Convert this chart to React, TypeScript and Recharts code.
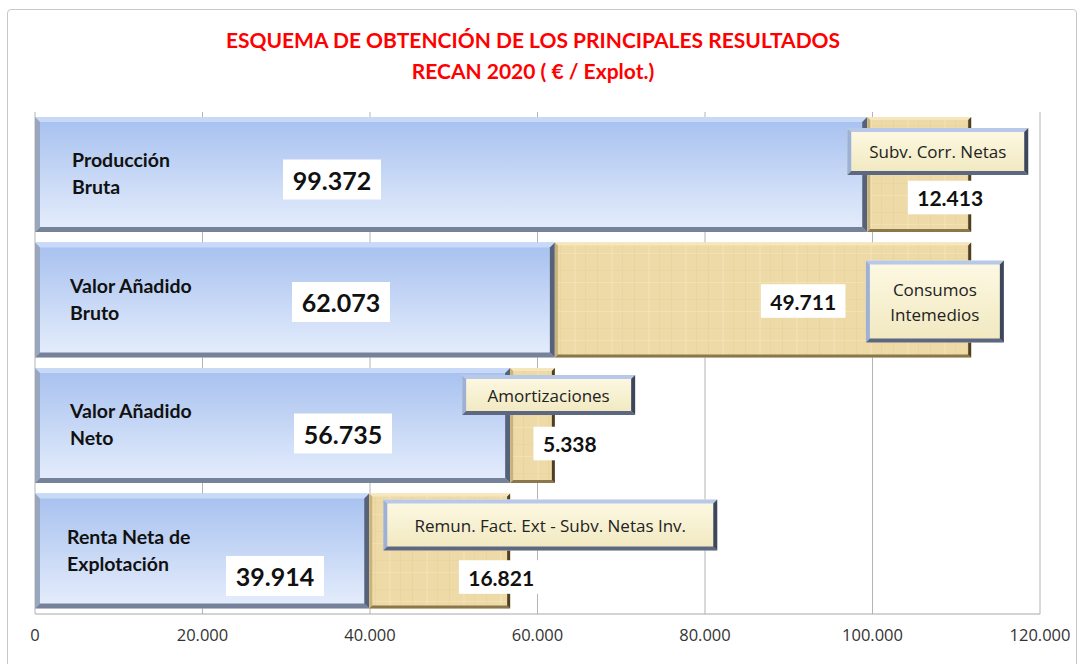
import { Bar, BarChart, CartesianGrid, XAxis, YAxis } from 'recharts';

const categories = [
  'Producción\nBruta',
  'Valor Añadido\nBruto',
  'Valor Añadido\nNeto',
  'Renta Neta de\nExplotación',
];
const mainValues = [99372, 62073, 56735, 39914];
const stepValues = [12413, 49711, 5338, 16821];
const stepNames = [
  'Subv. Corr. Netas',
  'Consumos\nIntemedios',
  'Amortizaciones',
  'Remun. Fact. Ext - Subv. Netas Inv.',
];
const xTicks = [0, 20000, 40000, 60000, 80000, 100000, 120000];

// label placement, in px, relative to each bar
const mainLabelPos = [
  { nameDx: 37, dx: 297, dy: 5 },
  { nameDx: 35, dx: 306, dy: 2 },
  { nameDx: 35, dx: 308, dy: 8 },
  { nameDx: 32, dx: 240, dy: 25 },
];
const stepLabelPos = [
  { dx: -21, dy: 23 },
  { dx: -168, dy: 1 },
  { dx: 15, dy: 18 },
  { dx: -9, dy: 26 },
];
const calloutPos = [
  { dx: -20, dy: 11, w: 181, h: 47 },
  { dx: 311, dy: 18, w: 138, h: 82 },
  { dx: -48, dy: 7, w: 173, h: 40 },
  { dx: 14, dy: 6, w: 334, h: 51 },
];

const chartData = categories.map((name, i) => ({
  name,
  main: mainValues[i],
  step: stepValues[i],
}));

const fmt = (v: number) => String(v).replace(/\B(?=(\d{3})+(?!\d))/g, '.');

const FONT = 'Lato, "Open Sans", sans-serif';

const Bevel = ({ x, y, w, h, b, top, left, bottom, right }: any) => (
  <g>
    <polygon points={`${x},${y} ${x + w},${y} ${x + w - b},${y + b} ${x + b},${y + b}`} fill={top} />
    <polygon points={`${x},${y} ${x + b},${y + b} ${x + b},${y + h - b} ${x},${y + h}`} fill={left} />
    <polygon points={`${x},${y + h} ${x + b},${y + h - b} ${x + w - b},${y + h - b} ${x + w},${y + h}`} fill={bottom} />
    <polygon points={`${x + w},${y} ${x + w},${y + h} ${x + w - b},${y + h - b} ${x + w - b},${y + b}`} fill={right} />
  </g>
);

const ValueBox = ({ cx, cy, text, size }: any) => {
  const w = text.length * size * 0.56 + 14;
  const h = size * 1.6;
  return (
    <g>
      <rect x={cx - w / 2} y={cy - h / 2} width={w} height={h} fill='#ffffff' />
      <text
        x={cx}
        y={cy}
        textAnchor='middle'
        dominantBaseline='central'
        fontFamily={FONT}
        fontWeight={700}
        fontSize={size}
        fill='#111'
      >
        {text}
      </text>
    </g>
  );
};

const MainShape = (props: any) => {
  const { x, y, width, height, index } = props;
  const pos = mainLabelPos[index];
  const lines = categories[index].split('\n');
  const cy = y + height / 2;
  return (
    <g>
      <rect x={x} y={y} width={width} height={height} fill='url(#blueGrad)' />
      <Bevel x={x} y={y} w={width} h={height} b={5} top='#c7d9f6' left='#9aa6bc' bottom='#76829a' right='#56627a' />
      {lines.map((l, k) => (
        <text
          key={k}
          x={x + pos.nameDx}
          y={cy - 15 + k * 27}
          dominantBaseline='central'
          fontFamily={FONT}
          fontWeight={700}
          fontSize={19.5}
          fill='#111'
        >
          {l}
        </text>
      ))}
      <ValueBox cx={x + pos.dx} cy={cy + pos.dy} text={fmt(mainValues[index])} size={25} />
    </g>
  );
};

const StepShape = (props: any) => {
  const { x, y, width, height, index } = props;
  const lp = stepLabelPos[index];
  const cp = calloutPos[index];
  const cy = y + height / 2;
  const lines = stepNames[index].split('\n');
  const bx = x + cp.dx;
  const by = y + cp.dy;
  return (
    <g>
      <rect x={x} y={y} width={width} height={height} fill='url(#papyrus)' />
      <Bevel x={x} y={y} w={width} h={height} b={3} top='#f6e6bc' left='#c9b37c' bottom='#8a774c' right='#4d3f24' />
      <ValueBox cx={x + width + lp.dx} cy={cy + lp.dy} text={fmt(stepValues[index])} size={21} />
      <g>
        <rect x={bx} y={by} width={cp.w} height={cp.h} fill='url(#creamGrad)' />
        <Bevel x={bx} y={by} w={cp.w} h={cp.h} b={4} top='#b8c8e8' left='#9db0d6' bottom='#5c6882' right='#3c465c' />
        {lines.map((l, k) => (
          <text
            key={k}
            x={bx + cp.w / 2}
            y={by + cp.h / 2 + (k - (lines.length - 1) / 2) * 25}
            textAnchor='middle'
            dominantBaseline='central'
            fontFamily='"Open Sans", sans-serif'
            fontSize={17}
            fill='#222'
          >
            {l}
          </text>
        ))}
      </g>
    </g>
  );
};

export default function App() {
  return (
    <div style={{ position: 'absolute', left: 0, top: 0, width: 1081, height: 664, background: '#fff', overflow: 'hidden' }}>
      <div
        style={{
          position: 'absolute',
          left: 7,
          top: 9,
          width: 1068,
          height: 700,
          border: '1px solid #c8c8c8',
          borderRadius: 4,
        }}
      />
      <div
        style={{
          position: 'absolute',
          left: 0,
          top: 24,
          width: 1066,
          textAlign: 'center',
          color: '#ff0000',
          fontFamily: FONT,
          fontWeight: 700,
          fontSize: 21,
          lineHeight: '31px',
        }}
      >
        <div>ESQUEMA DE OBTENCIÓN DE LOS PRINCIPALES RESULTADOS</div>
        <div>RECAN 2020 ( € / Explot.)</div>
      </div>
      <div style={{ position: 'absolute', left: 0, top: 0 }}>
        <BarChart
          width={1081}
          height={664}
          data={chartData}
          layout='vertical'
          barCategoryGap='4%'
          margin={{ top: 112, right: 41, bottom: 20, left: 35 }}
        >
          <defs>
            <linearGradient id='blueGrad' x1='0' y1='0' x2='0' y2='1'>
              <stop offset='0%' stopColor='#a6c0ef' />
              <stop offset='100%' stopColor='#e6eefc' />
            </linearGradient>
            <linearGradient id='creamGrad' x1='0' y1='0' x2='0' y2='1'>
              <stop offset='0%' stopColor='#fdf9e4' />
              <stop offset='100%' stopColor='#f1e8bf' />
            </linearGradient>
            <pattern id='papyrus' width='37' height='29' patternUnits='userSpaceOnUse'>
              <rect width='37' height='29' fill='#eedaa6' />
              <rect x='5' width='1' height='29' fill='#dcc48e' opacity='0.25' />
              <rect x='19' width='2' height='29' fill='#f6e7bf' opacity='0.4' />
              <rect x='30' width='1' height='29' fill='#dbc38c' opacity='0.2' />
              <rect y='9' width='37' height='1' fill='#e0c995' opacity='0.2' />
              <rect y='21' width='37' height='1' fill='#f8ebc6' opacity='0.4' />
            </pattern>
          </defs>
          <CartesianGrid horizontal={false} stroke='#b4b4b4' />
          <XAxis
            type='number'
            domain={[0, 120000]}
            ticks={xTicks}
            tickFormatter={fmt}
            tickSize={0}
            tickMargin={15}
            stroke='#a8a8a8'
            tick={{ fill: '#333', fontSize: 16.5, fontFamily: '"Open Sans", sans-serif' }}
            height={30}
          />
          <YAxis type='category' dataKey='name' hide />
          <Bar dataKey='main' stackId='s' shape={MainShape} isAnimationActive={false} />
          <Bar dataKey='step' stackId='s' shape={StepShape} isAnimationActive={false} />
        </BarChart>
      </div>
    </div>
  );
}
